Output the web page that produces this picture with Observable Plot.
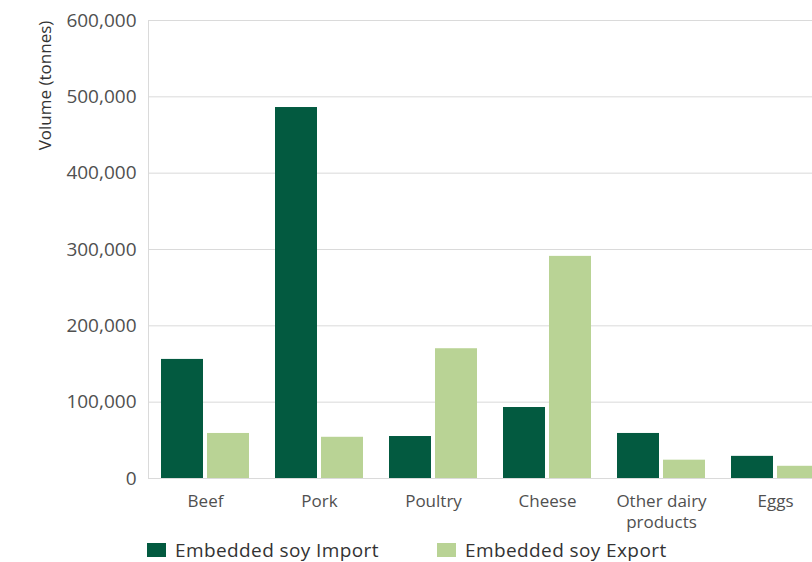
<!DOCTYPE html>
<html>
<head>
<meta charset="utf-8">
<script src="https://cdn.jsdelivr.net/npm/d3@7"></script>
<script src="https://cdn.jsdelivr.net/npm/@observablehq/plot@0.6"></script>
<style>
  html, body { margin: 0; padding: 0; background: #fff; overflow: hidden; }
  #chart { position: relative; width: 812px; height: 562px; overflow: hidden; font-family: "Open Sans", sans-serif; }
  #chart svg { position: absolute; left: 0; top: 0; max-width: none; }
  .legend { position: absolute; top: 539px; left: 147px; height: 22px; font-size: 19px; letter-spacing: 0.4px; color: #333; }
  .legend .item { position: absolute; top: 0; white-space: nowrap; display: flex; align-items: center; height: 22px; line-height: 22px; }
  .legend .swatch { width: 19px; height: 14px; margin-right: 9px; }
</style>
</head>
<body>
<div id="chart"></div>
<script>
// Livestock products and the soy embedded in their trade (tonnes)
const products = ["Beef", "Pork", "Poultry", "Cheese", "Other dairy\nproducts", "Eggs"];
const importVolumes = [156000, 486000, 55000, 93000, 59000, 29000];
const exportVolumes = [59000, 54000, 170000, 291000, 24000, 16000];
const flows = ["Embedded soy Import", "Embedded soy Export"];
const flowColors = ["#035a40", "#b9d395"];
const yTicks = [0, 100000, 200000, 300000, 400000, 500000, 600000];
const yLabel = "Volume (tonnes)";

const rows = products.map((p, i) => ({product: p, imp: importVolumes[i], exp: exportVolumes[i]}));

const font = "Open Sans, sans-serif";

const plot = Plot.plot({
  width: 840,
  height: 535,
  marginLeft: 148,
  marginRight: 8,
  marginTop: 20,
  marginBottom: 57,
  style: {fontFamily: font, background: "transparent", maxWidth: "none"},
  x: {domain: products, paddingInner: 0.228, paddingOuter: 0.114, label: null},
  y: {domain: [0, 600000], label: null},
  marks: [
    Plot.ruleY(yTicks, {stroke: "#dadada", strokeWidth: 1}),
    Plot.frame({anchor: "left", stroke: "#dadada"}),
    Plot.barY(rows, {x: "product", y: "imp", fill: flowColors[0], insetRight: 46}),
    Plot.barY(rows, {x: "product", y: "exp", fill: flowColors[1], insetLeft: 46}),
    Plot.axisY(yTicks, {
      tickSize: 0, tickPadding: 12, tickFormat: d3.format(","),
      fontSize: 19, fill: "#505050", label: null
    }),
    Plot.axisX({
      tickSize: 0, tickPadding: 13, fontSize: 17, fill: "#505050",
      lineHeight: 1.25, label: null
    }),
    Plot.text([yLabel], {
      frameAnchor: "top-left", dx: -110, dy: 65, rotate: -90,
      fontSize: 17, fill: "#333", textAnchor: "middle"
    })
  ]
});

const chart = document.getElementById("chart");
chart.appendChild(plot);

const legend = document.createElement("div");
legend.className = "legend";
const offsets = [0, 290];
flows.forEach((f, i) => {
  const item = document.createElement("div");
  item.className = "item";
  item.style.left = offsets[i] + "px";
  const sw = document.createElement("span");
  sw.className = "swatch";
  sw.style.background = flowColors[i];
  const label = document.createElement("span");
  label.textContent = f;
  item.appendChild(sw);
  item.appendChild(label);
  legend.appendChild(item);
});
chart.appendChild(legend);
</script>
</body>
</html>
